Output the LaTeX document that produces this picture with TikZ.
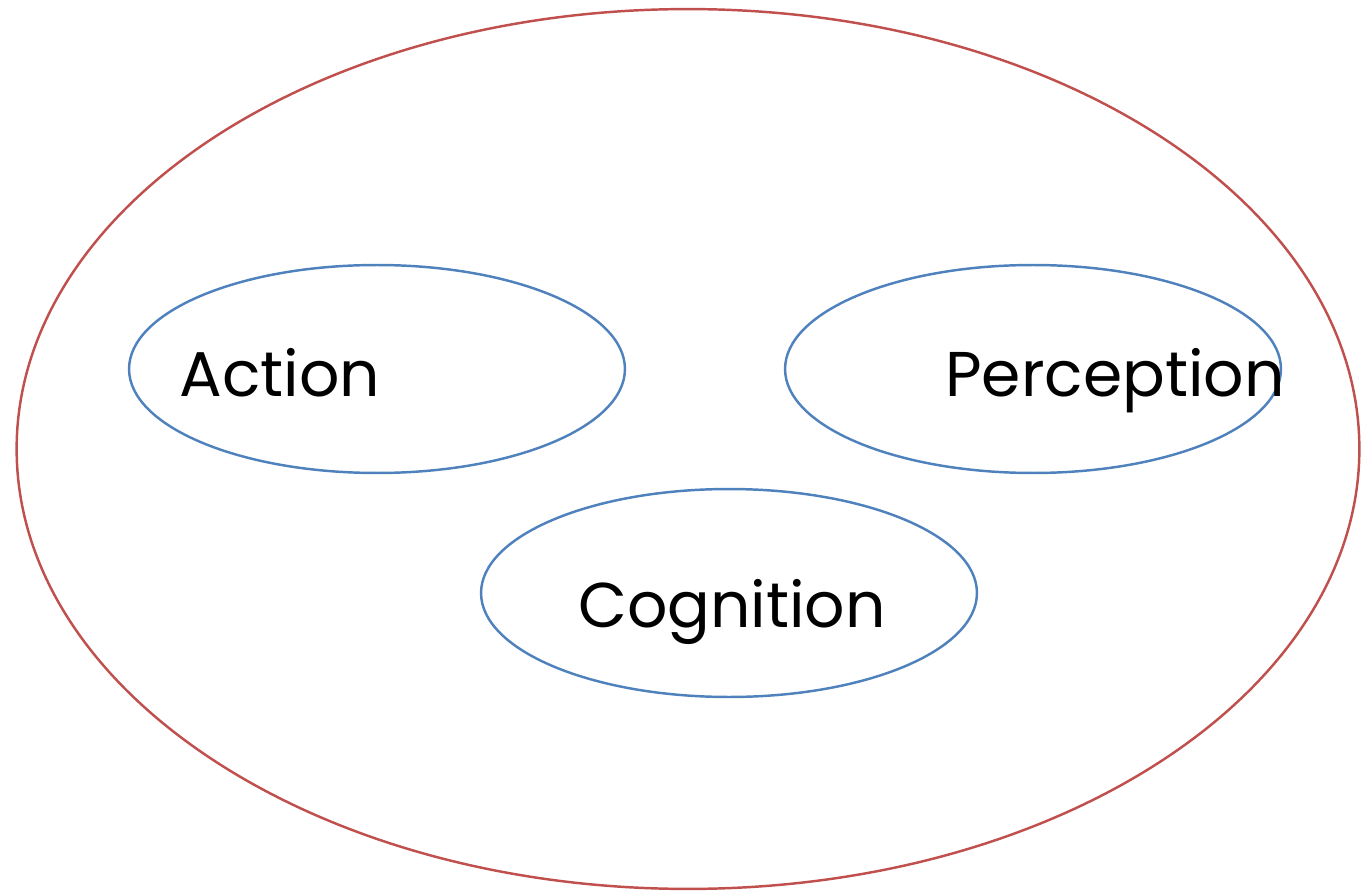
\documentclass[tikz,border=0pt]{standalone}
\usepackage{fontspec}
\setmainfont{Poppins}
\usetikzlibrary{shapes.geometric}
\definecolor{ovred}{RGB}{192,80,77}
\definecolor{ovblue}{RGB}{79,129,189}
\begin{document}
\begin{tikzpicture}[x=0.02cm,y=-0.02cm,
			outer/.style={ellipse,draw=ovred,line width=1.4pt,minimum width=26.86cm,minimum height=17.6cm,inner sep=0pt},
			inner/.style={ellipse,draw=ovblue,line width=1.4pt,minimum width=9.92cm,minimum height=4.16cm,inner sep=0pt},
			word/.style={anchor=base,inner sep=0pt,font=\fontsize{36}{42}\selectfont}]
			\useasboundingbox (0,0) rectangle (1361,891);
			\node[outer] (world) at (688,449) {};
			\node[inner] (act) at (377,369) {};
			\node[inner] (perc) at (1033,369) {};
			\node[inner] (cogn) at (729,593) {};
			\node[word] (actlbl) at (280,397) {Action};
			\node[word] (perclbl) at (1115,397) {Perception};
			\node[word] (cognlbl) at (732,627) {Cognition};
		\end{tikzpicture}
\end{document}
